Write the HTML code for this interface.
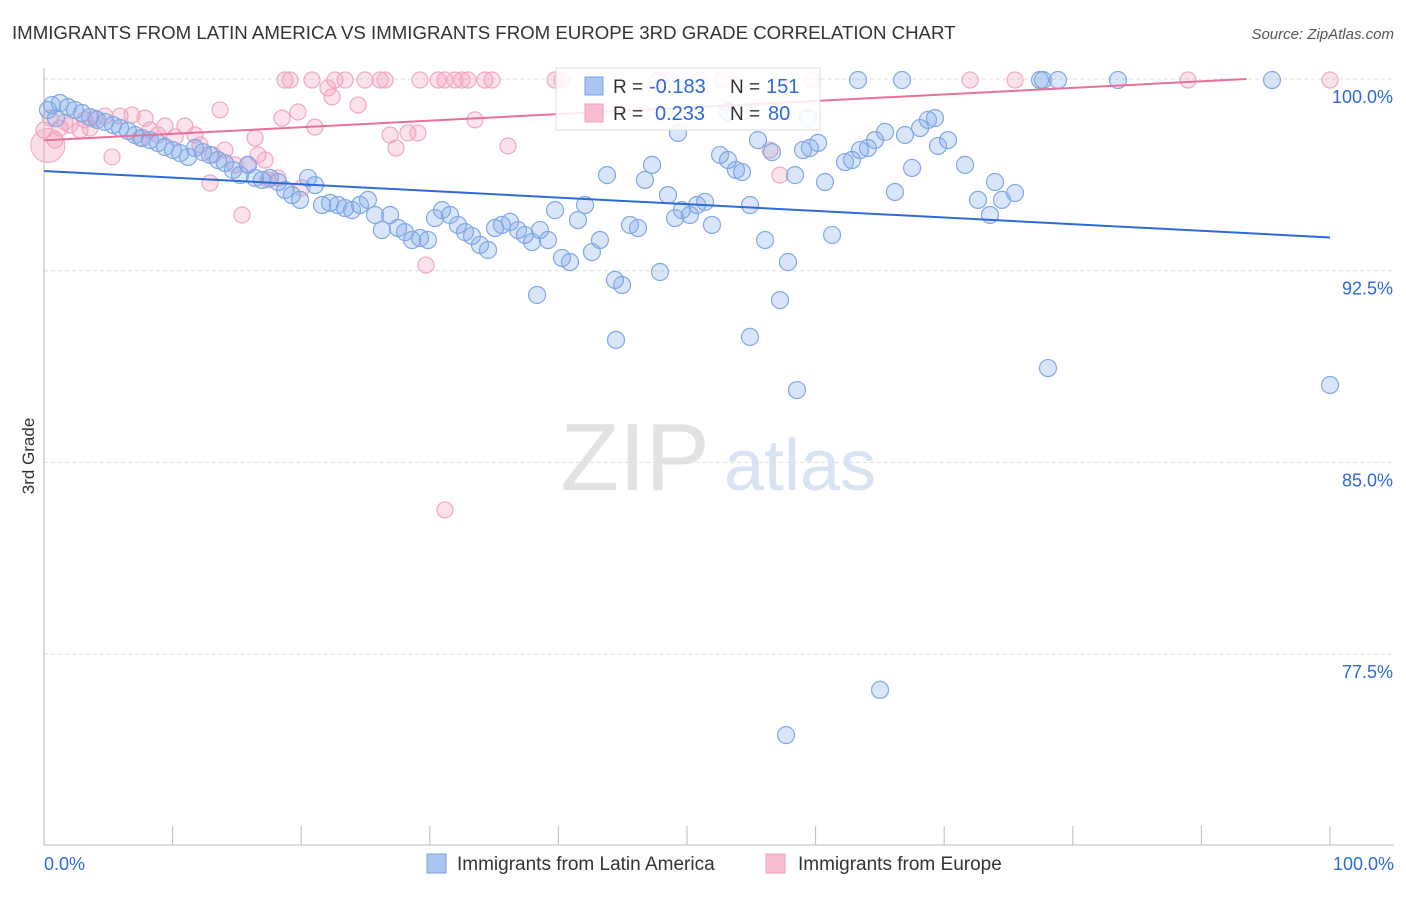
<!DOCTYPE html>
<html><head><meta charset="utf-8">
<style>
body{margin:0;background:#fff;font-family:"Liberation Sans",sans-serif;}
svg text{font-family:"Liberation Sans",sans-serif;}
</style></head>
<body>
<svg id="chart" width="1406" height="892" viewBox="0 0 1406 892" xmlns="http://www.w3.org/2000/svg">
<text x="12" y="39" font-size="18.65" fill="#333">IMMIGRANTS FROM LATIN AMERICA VS IMMIGRANTS FROM EUROPE 3RD GRADE CORRELATION CHART</text>
<text x="1394" y="39" font-size="15" fill="#555" font-style="italic" text-anchor="end">Source: ZipAtlas.com</text>
<text x="34" y="456" font-size="17" fill="#333" text-anchor="middle" transform="rotate(-90 34 456)">3rd Grade</text>
<g id="grid"></g>
<g id="wm">
<text x="635" y="490" font-size="96" fill="#e2e2e2" font-family="Liberation Serif" text-anchor="middle">ZIP</text>
<text x="800" y="490" font-size="72" fill="#d8e3f3" text-anchor="middle">atlas</text>
</g>
<g id="pts"></g>
<g id="trends"></g>
<g>
<rect x="556" y="68" width="264" height="62" fill="#fff" fill-opacity="0.85" stroke="#ddd"/>
<rect x="585" y="77" width="18" height="18" fill="#a8c6f0" stroke="#7aa3e0"/>
<text x="613" y="93" font-size="19" fill="#333">R =</text>
<text x="649" y="93" font-size="20" fill="#2d6ad8">-0.183</text>
<text x="730" y="93" font-size="19" fill="#333">N =</text>
<text x="766" y="93" font-size="20" fill="#2d6ad8">151</text>
<rect x="585" y="104" width="18" height="18" fill="#f7bcd0" stroke="#f0a0bc"/>
<text x="613" y="120" font-size="19" fill="#333">R =</text>
<text x="655" y="120" font-size="20" fill="#2d6ad8">0.233</text>
<text x="730" y="120" font-size="19" fill="#333">N =</text>
<text x="768" y="120" font-size="20" fill="#2d6ad8">80</text>
</g>
<g>
<rect x="427" y="854" width="19" height="19" fill="#a8c6f0" stroke="#7aa3e0"/>
<text x="457" y="870" font-size="19" fill="#333">Immigrants from Latin America</text>
<rect x="766" y="854" width="19" height="19" fill="#f7bcd0" stroke="#f0a0bc"/>
<text x="798" y="870" font-size="19" fill="#333">Immigrants from Europe</text>
</g>
</svg>
<script>
const yTicks=[100,92.5,85,77.5];
const yTickLabels=["100.0%","92.5%","85.0%","77.5%"];
const xTickLabels=["0.0%","100.0%"];
const bluePx=[[52,105],[60,103],[68,107],[75,110],[82,113],[90,117],[97,120],[105,122],[113,125],[120,128],[128,131],[135,135],[142,138],[150,140],[158,143],[165,147],[173,150],[180,153],[188,157],[195,148],[203,152],[210,155],[218,160],[225,163],[233,170],[240,175],[248,165],[255,178],[262,180],[270,178],[278,182],[285,190],[292,195],[300,200],[308,178],[315,185],[322,205],[330,203],[338,205],[345,208],[352,210],[360,205],[368,200],[375,215],[382,230],[390,215],[398,228],[405,232],[412,240],[420,238],[428,240],[435,218],[442,210],[450,215],[458,225],[465,232],[472,236],[480,245],[488,250],[495,228],[502,225],[510,222],[518,230],[525,235],[532,242],[540,230],[548,240],[555,210],[562,258],[570,262],[578,220],[585,205],[592,252],[600,240],[607,175],[615,280],[622,285],[630,225],[638,228],[645,180],[652,165],[660,272],[668,195],[675,218],[682,210],[690,215],[697,205],[705,202],[712,225],[720,155],[728,160],[736,170],[742,172],[750,205],[758,140],[765,240],[772,152],[780,300],[788,262],[795,175],[803,150],[810,148],[818,143],[825,182],[832,235],[845,162],[852,160],[860,150],[868,148],[875,140],[885,132],[895,192],[905,135],[912,168],[920,128],[928,120],[938,146],[948,140],[965,165],[978,200],[990,215],[995,182],[1002,200],[1015,193],[1048,368],[1330,385],[797,390],[880,690],[786,735],[750,337],[616,340],[537,295],[728,112],[858,80],[902,80],[1040,80],[1043,80],[1058,80],[1118,80],[1272,80],[678,133],[808,118],[935,118],[48,110],[56,118]];
const pinkPx=[[285,80],[290,80],[312,80],[335,80],[345,80],[365,80],[380,80],[385,80],[420,80],[438,80],[445,80],[455,80],[462,80],[468,80],[485,80],[492,80],[555,80],[562,80],[658,80],[665,80],[700,80],[722,80],[812,80],[970,80],[1015,80],[1188,80],[1330,80],[328,88],[332,97],[358,105],[220,110],[298,112],[282,118],[475,120],[315,127],[390,135],[408,133],[418,133],[396,148],[508,146],[60,128],[70,125],[80,130],[95,118],[105,116],[120,116],[132,115],[145,118],[165,126],[185,126],[158,135],[175,137],[200,145],[213,155],[255,138],[258,155],[235,165],[248,165],[268,180],[278,178],[302,188],[210,183],[242,215],[112,157],[770,150],[780,175],[426,265],[445,510],[55,140],[65,122],[44,130],[50,118],[195,135],[225,150],[265,160],[85,120],[90,128],[150,130],[140,138]];
const latinX=bluePx.map(p=>+((p[0]-44)/12.86).toFixed(2));
const latinY=bluePx.map(p=>+(100-(p[1]-79)/25.56).toFixed(2));
const europeX=pinkPx.map(p=>+((p[0]-44)/12.86).toFixed(2));
const europeY=pinkPx.map(p=>+(100-(p[1]-79)/25.56).toFixed(2));
const latinTrend=[[0,96.4],[100,93.8]];
const europeTrend=[[0,97.6],[93.5,100]];
const X=v=>44+v*12.86, Y=v=>79+(100-v)*25.56;
const NS="http://www.w3.org/2000/svg";
function mk(t,a,p){const e=document.createElementNS(NS,t);for(const k in a)e.setAttribute(k,a[k]);p.appendChild(e);return e;}
const g=document.getElementById('grid');
yTicks.forEach((t,i)=>{
 const l=mk('line',{x1:44,x2:1394,y1:Y(t),y2:Y(t),stroke:'#ddd','stroke-dasharray':'4 3'},g);
 
 
 const tx=mk('text',{x:1393,y:Y(t)+24,'font-size':18,fill:'#2d6ad8','text-anchor':'end'},g);
 tx.textContent=yTickLabels[i];
 
 
});
const ax=mk('line',{x1:44,x2:1394,y1:845,y2:845,stroke:'#bbb'},g);


const ay=mk('line',{x1:44,x2:44,y1:68,y2:845,stroke:'#bbb'},g);


for(let i=0;i<=10;i++){const t=mk('line',{x1:X(i*10),x2:X(i*10),y1:826,y2:845,stroke:'#bbb'},g);
 
 }
[[0,'start'],[100,'end']].forEach((d,i)=>{const t=mk('text',{x:d[0]==0?44:1394,y:870,'font-size':18,fill:'#2d6ad8','text-anchor':d[1]},g);t.textContent=xTickLabels[i];
 
 });
const pts=document.getElementById('pts');
europeX.forEach((x,i)=>{const c=mk('circle',{cx:X(x),cy:Y(europeY[i]),r:8,fill:'rgba(244,160,190,0.3)',stroke:'#f0a8c2','stroke-width':1.2},pts);
 
 });
latinX.forEach((x,i)=>{const c=mk('circle',{cx:X(x),cy:Y(latinY[i]),r:8.5,fill:'rgba(130,170,235,0.3)',stroke:'#80a8e4','stroke-width':1.2},pts);
 
 });
const big=mk('circle',{cx:X(0.3),cy:Y(97.4),r:17,fill:'rgba(244,160,190,0.35)',stroke:'#f0a8c2'},pts);


const tr=document.getElementById('trends');
const l1=mk('line',{x1:X(latinTrend[0][0]),y1:Y(latinTrend[0][1]),x2:X(latinTrend[1][0]),y2:Y(latinTrend[1][1]),stroke:'#2d6ad8','stroke-width':2},tr);


const l2=mk('line',{x1:X(europeTrend[0][0]),y1:Y(europeTrend[0][1]),x2:X(europeTrend[1][0]),y2:Y(europeTrend[1][1]),stroke:'#e8709a','stroke-width':2},tr);


</script>
</body></html>
